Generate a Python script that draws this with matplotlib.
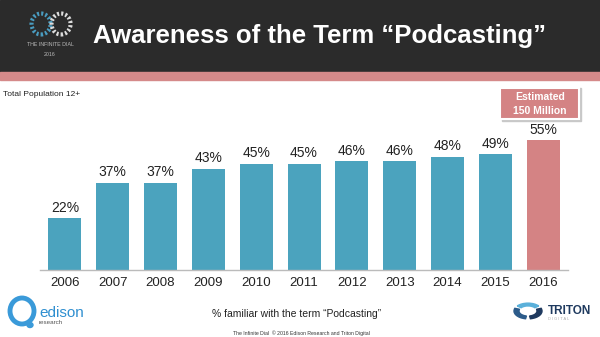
import matplotlib
matplotlib.use("Agg")
import matplotlib.pyplot as plt
from matplotlib.patches import Rectangle, Ellipse, Wedge

plt.rcParams['font.family'] = ['Liberation Sans', 'DejaVu Sans']

years = ['2006', '2007', '2008', '2009', '2010', '2011', '2012', '2013', '2014', '2015', '2016']
values = [22, 37, 37, 43, 45, 45, 46, 46, 48, 49, 55]
labels = [f"{v}%" for v in values]

teal = '#4BA3BE'
pink = '#D48384'

W, H = 600, 337
def fx(px):
    return px / W
def fy(py):
    return 1 - py / H

fig = plt.figure(figsize=(6, 3.37), dpi=100)
fig.patch.set_facecolor('white')

# header
fig.add_artist(Rectangle((0, fy(72)), 1, 72/H, transform=fig.transFigure, color='#2B2B2B', zorder=0))
fig.add_artist(Rectangle((0, fy(80)), 1, 8/H, transform=fig.transFigure, color='#D58A8A', zorder=0))
fig.text(fx(93), fy(43), 'Awareness of the Term \u201cPodcasting\u201d', color='white',
         fontsize=18.5, fontweight='bold', va='baseline', ha='left')

# infinite dial logo (approximation)
for cx, col in [(41, '#4A9CC0'), (61, '#DDDDDD')]:
    fig.add_artist(Ellipse((fx(cx), fy(24)), 19/W, 21/H, transform=fig.transFigure,
                           fill=False, ec=col, lw=3, ls=(0, (0.5, 0.5))))
fig.text(fx(50), fy(45), 'THE INFINITE DIAL', color='#BBBBBB', fontsize=3.8, ha='center', va='center')
fig.text(fx(50), fy(54), '2016', color='#BBBBBB', fontsize=3.8, ha='center', va='center')

fig.text(fx(3), fy(94), 'Total Population 12+', fontsize=6, color='#222222', va='center', ha='left')

ax = fig.add_axes([fx(40), 67/H, 528/W, 180/H])
x = list(range(len(years)))
colors = [teal] * (len(years) - 1) + [pink]
ax.bar(x, values, width=0.69, color=colors, zorder=2)
for xi, v, lab in zip(x, values, labels):
    ax.text(xi, v + 1.5, lab, ha='center', va='bottom', fontsize=10, color='#222222')
ax.set_xlim(-0.52, len(years) - 0.48)
ax.set_ylim(0, 76.3)
ax.set_xticks(x)
ax.set_xticklabels(years, fontsize=9.5, color='#222222')
ax.tick_params(axis='x', length=0, pad=5)
ax.set_yticks([])
for s in ['top', 'right', 'left']:
    ax.spines[s].set_visible(False)
ax.spines['bottom'].set_color('#BBBBBB')
ax.spines['bottom'].set_linewidth(1)

# estimated box
fig.add_artist(Rectangle((fx(502), fy(121)), 79/W, 33/H, transform=fig.transFigure,
                         color='#C8C8C8', zorder=3))
fig.add_artist(Rectangle((fx(500), fy(119)), 79/W, 31/H, transform=fig.transFigure,
                         fc=pink, ec='white', lw=1.5, zorder=4))
fig.text(fx(540), fy(97), 'Estimated', color='white', fontsize=7.5, fontweight='bold',
         ha='center', va='center', zorder=5)
fig.text(fx(540), fy(111), '150 Million', color='white', fontsize=7.5, fontweight='bold',
         ha='center', va='center', zorder=5)

# footer
fig.text(fx(297), fy(314), '% familiar with the term \u201cPodcasting\u201d', fontsize=7.5, color='#222222',
         ha='center', va='center')
fig.text(fx(301), fy(333), 'The Infinite Dial  \u00a9 2016 Edison Research and Triton Digital',
         fontsize=3.7, color='#333333', ha='center', va='center')

# edison logo (approximation)
fig.add_artist(Ellipse((fx(22), fy(311)), 24/W, 26/H, transform=fig.transFigure,
                       fill=False, ec='#3A9AD9', lw=3.5))
fig.add_artist(Ellipse((fx(30), fy(325)), 6/W, 5/H, transform=fig.transFigure,
                       color='#3A9AD9'))
fig.text(fx(39), fy(313), 'edison', fontsize=11, color='#2F8FD0', ha='left', va='center')
fig.text(fx(39), fy(323), 'research', fontsize=4.5, color='#555555', ha='left', va='center')

# triton logo (approximation)
c = (fx(528), fy(311))
fig.add_artist(Wedge(c, 14/W, 40, 140, width=5/W, transform=fig.transFigure, color='#5AB0DA'))
fig.add_artist(Wedge(c, 14/W, 160, 260, width=5/W, transform=fig.transFigure, color='#2C5B8A'))
fig.add_artist(Wedge(c, 14/W, 280, 20, width=5/W, transform=fig.transFigure, color='#1F3A5F'))
fig.text(fx(548), fy(311), 'TRITON', fontsize=8.5, fontweight='bold', color='#1F3A5F',
         ha='left', va='center')
fig.text(fx(548), fy(319), 'D I G I T A L', fontsize=2.8, color='#AAAAAA', ha='left', va='center')

fig.savefig('out.png', dpi=100, facecolor='white')
